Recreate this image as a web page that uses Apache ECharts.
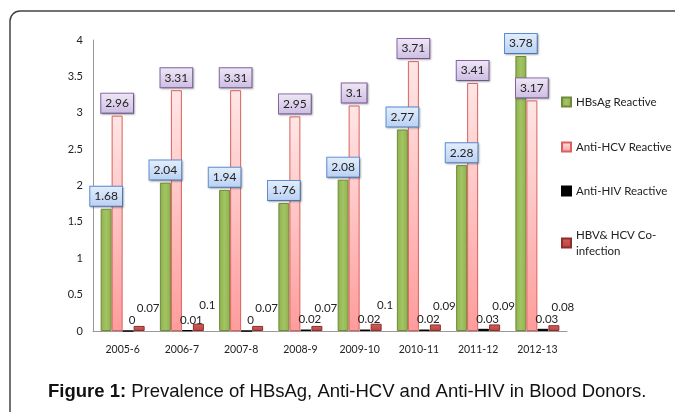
<!DOCTYPE html>
<html>
<head>
<meta charset="utf-8">
<script src="https://cdn.jsdelivr.net/npm/echarts@6/dist/echarts.min.js"></script>
<style>
html,body{margin:0;padding:0;background:#fff;}
#chart{width:675px;height:412px;}
</style>
</head>
<body>
<div id="chart"></div>
<script>
const categories = ['2005-6','2006-7','2007-8','2008-9','2009-10','2010-11','2011-12','2012-13'];
const hbsag = [1.68, 2.04, 1.94, 1.76, 2.08, 2.77, 2.28, 3.78];
const antiHcv = [2.96, 3.31, 3.31, 2.95, 3.1, 3.71, 3.41, 3.17];
const antiHiv = [0, 0.01, 0, 0.02, 0.02, 0.02, 0.03, 0.03];
const coInfection = [0.07, 0.1, 0.07, 0.07, 0.1, 0.09, 0.09, 0.08];
const seriesNames = ['HBsAg Reactive', 'Anti-HCV Reactive', 'Anti-HIV Reactive', 'HBV& HCV Co-\ninfection'];

const font = 'Lato, "Open Sans", sans-serif';
const chart = echarts.init(document.getElementById('chart'));

function boxLabel(bg, border) {
  return {
    show: true, position: 'top', distance: 3,
    fontFamily: font, fontSize: 12, color: '#222',
    backgroundColor: bg, borderColor: border, borderWidth: 1,
    padding: [3, 4, 3, 4], lineHeight: 13,
    shadowColor: 'rgba(0,0,0,0.25)', shadowBlur: 2, shadowOffsetX: 1, shadowOffsetY: 1
  };
}

function legendAt(idx, top) {
  return {
    data: [seriesNames[idx]], left: 561, top: top, orient: 'vertical', padding: 0,
    itemWidth: 9, itemHeight: 9, icon: 'rect', itemGap: 4,
    textStyle: { fontFamily: font, fontSize: 11.5, color: '#222', lineHeight: 16 }
  };
}

chart.setOption({
  animation: false,
  graphic: [{
    type: 'rect', shape: { x: 10, y: 11, width: 700, height: 460, r: 10 },
    style: { fill: 'none', stroke: '#444', lineWidth: 1.5 }, silent: true
  }],
  title: {
    text: '{b|Figure 1:} Prevalence of HBsAg, Anti-HCV and Anti-HIV in Blood Donors.',
    left: 48, top: 382, padding: 0,
    textStyle: {
      fontFamily: '"Liberation Sans", Arial, sans-serif', fontSize: 18.5, fontWeight: 'normal', color: '#111',
      rich: { b: { fontFamily: '"Liberation Sans", Arial, sans-serif', fontSize: 18.5, fontWeight: 'bold', color: '#111' } }
    }
  },
  legend: [legendAt(0, 94), legendAt(1, 139), legendAt(2, 183), legendAt(3, 227)],
  grid: { left: 93, right: 108, top: 40, bottom: 81 },
  xAxis: {
    type: 'category', data: categories,
    axisLine: { show: true, lineStyle: { color: '#999' } },
    axisTick: { show: false },
    axisLabel: { fontFamily: font, fontSize: 10.5, color: '#222', margin: 13 }
  },
  yAxis: {
    type: 'value', min: 0, max: 4, interval: 0.5,
    splitLine: { show: false },
    axisLine: { show: true, lineStyle: { color: '#999' } },
    axisTick: { show: false },
    axisLabel: { fontFamily: font, fontSize: 11, color: '#222', margin: 10 }
  },
  series: [
    {
      name: seriesNames[0], type: 'bar', data: hbsag, barWidth: 11, barGap: '0%',
      itemStyle: {
        color: new echarts.graphic.LinearGradient(0, 0, 1, 0, [
          { offset: 0, color: '#8fb04e' }, { offset: 0.5, color: '#a3c463' }, { offset: 1, color: '#8fb04e' }]),
        borderColor: '#6f8a3a', borderWidth: 1
      },
      label: boxLabel(new echarts.graphic.LinearGradient(0, 0, 0, 1, [
        { offset: 0, color: '#e4eefc' }, { offset: 1, color: '#b9d1f3' }]), '#5b8fd6')
    },
    {
      name: seriesNames[1], type: 'bar', data: antiHcv, barWidth: 11, barGap: '0%',
      itemStyle: {
        color: new echarts.graphic.LinearGradient(0, 0, 0, 1, [
          { offset: 0, color: '#ffe6e6' }, { offset: 1, color: '#ff9c9c' }]),
        borderColor: '#d9605c', borderWidth: 1
      },
      label: boxLabel(new echarts.graphic.LinearGradient(0, 0, 0, 1, [
        { offset: 0, color: '#efe8f6' }, { offset: 1, color: '#cdbde2' }]), '#8466a8')
    },
    {
      name: seriesNames[2], type: 'bar', data: antiHiv, barWidth: 11, barGap: '0%',
      itemStyle: { color: '#000', borderColor: '#000', borderWidth: 1 },
      label: { show: true, position: 'top', distance: 4, offset: [4, 0],
        fontFamily: font, fontSize: 11.5, color: '#222' }
    },
    {
      name: seriesNames[3], type: 'bar', data: coInfection, barWidth: 11, barGap: '0%',
      itemStyle: {
        color: new echarts.graphic.LinearGradient(0, 0, 0, 1, [
          { offset: 0, color: '#d0605d' }, { offset: 1, color: '#b8413e' }]),
        borderColor: '#8b2f2d', borderWidth: 1
      },
      label: { show: true, position: 'top', distance: 5, offset: [9, -7],
        fontFamily: font, fontSize: 11.5, color: '#222' }
    }
  ]
});
</script>
</body>
</html>
